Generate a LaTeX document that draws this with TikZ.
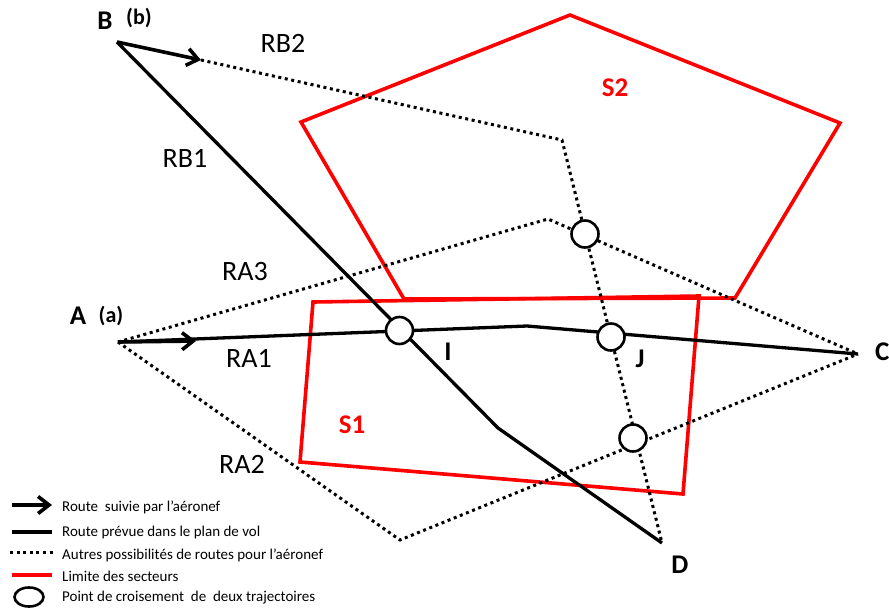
\documentclass[tikz,border=0pt]{standalone}
\usepackage{fontspec}
\setmainfont{Carlito}
\usetikzlibrary{arrows.meta,shapes.geometric}
\begin{document}
\begin{tikzpicture}[x=1pt,y=-1pt,
  planned/.style={line width=3.3pt,black},
  otherroute/.style={line width=3pt,black,dash pattern=on 3pt off 3.6pt},
  sector/.style={line width=3.6pt,red,line join=miter},
  followed/.style={line width=3.6pt,black,-{Straight Barb[length=11pt,width=17pt,line width=3.6pt]}},
  cross/.style={circle,draw=black,line width=2.6pt,fill=white,minimum size=27pt,inner sep=0pt},
  biglbl/.style={font=\fontsize{28}{32}\selectfont,inner sep=0pt},
  boldlbl/.style={font=\fontsize{27}{32}\selectfont\bfseries,inner sep=0pt},
  smallbold/.style={font=\fontsize{22}{26}\selectfont\bfseries,inner sep=0pt},
  redlbl/.style={font=\fontsize{27}{32}\selectfont\bfseries,text=red,inner sep=0pt},
  legtext/.style={font=\fontsize{15}{18}\selectfont,anchor=west,inner sep=0pt}]
\useasboundingbox (0,0) rectangle (889,611);
% key points
\coordinate (A) at (118,342);
\coordinate (B) at (117,42);
\coordinate (C) at (858,354);
\coordinate (D) at (662,543);
\coordinate (Atip) at (196,341);
\coordinate (Btip) at (201,60);
\coordinate (RBk) at (562,140);
\coordinate (RAk) at (527,326);
\coordinate (RBbend) at (498,428);
\coordinate (RA3k) at (548,219);
\coordinate (RA2k) at (400,540);
% sectors
\draw[sector] (570,15) -- (840,123) -- (735,298) -- (404,299) -- (301,122) -- cycle;
\draw[sector] (313,302) -- (699,296) -- (683,494) -- (300,462) -- cycle;
% other routes (dotted)
\draw[otherroute] (Btip) -- (RBk) -- (D);
\draw[otherroute] (A) -- (RA3k) -- (C);
\draw[otherroute] (A) -- (RA2k) -- (C);
% planned routes
\draw[planned] (A) -- (RAk) -- (C);
\draw[planned] (B) -- (RBbend) -- (D);
% followed routes
\draw[followed] (A) -- (Atip);
\draw[followed] (B) -- (Btip);
% crossing points
\node[cross] (I) at (399.5,330.5) {};
\node[cross] (J) at (611,337) {};
\node[cross] (X1) at (585,234) {};
\node[cross] (X2) at (633,438) {};
% labels
\node[boldlbl] (lA) at (78,316) {A};
\node[smallbold] (la) at (111,316) {(a)};
\node[boldlbl] (lB) at (105,21) {B};
\node[smallbold] (lb) at (139,18) {(b)};
\node[boldlbl,anchor=west] (lC) at (875,352) {C};
\node[boldlbl] (lD) at (680,565) {D};
\node[boldlbl] (lI) at (448,352) {I};
\node[boldlbl] (lJ) at (640,359) {J};
\node[biglbl] (lRB2) at (283,43) {RB2};
\node[biglbl] (lRB1) at (185,158) {RB1};
\node[biglbl] (lRA3) at (245,272) {RA3};
\node[biglbl] (lRA1) at (249,358) {RA1};
\node[biglbl] (lRA2) at (242,464) {RA2};
\node[redlbl] (lS1) at (352,425) {S1};
\node[redlbl] (lS2) at (615,88) {S2};
% legend
\coordinate (L1a) at (12,505); \coordinate (L1b) at (52,505);
\draw[followed] (L1a) -- (L1b);
\node[legtext] (t1) at (62,507) {Route\ \ suivie par l’aéronef};
\coordinate (L2a) at (12,532); \coordinate (L2b) at (52,532);
\draw[planned] (L2a) -- (L2b);
\node[legtext] (t2) at (62,532) {Route prévue dans le plan de vol};
\coordinate (L3a) at (10,552); \coordinate (L3b) at (53,552);
\draw[otherroute] (L3a) -- (L3b);
\node[legtext] (t3) at (62,555) {Autres possibilités de routes pour l’aéronef};
\coordinate (L4a) at (12,575); \coordinate (L4b) at (52,575);
\draw[sector] (L4a) -- (L4b);
\node[legtext] (t4) at (62,576) {Limite des secteurs};
\node[ellipse,draw=black,line width=2.6pt,minimum width=29pt,minimum height=19pt,inner sep=0pt] (L5) at (29,597) {};
\node[legtext] (t5) at (62,598) {Point de croisement\ \ de\ \ deux trajectoires};
\end{tikzpicture}
\end{document}
